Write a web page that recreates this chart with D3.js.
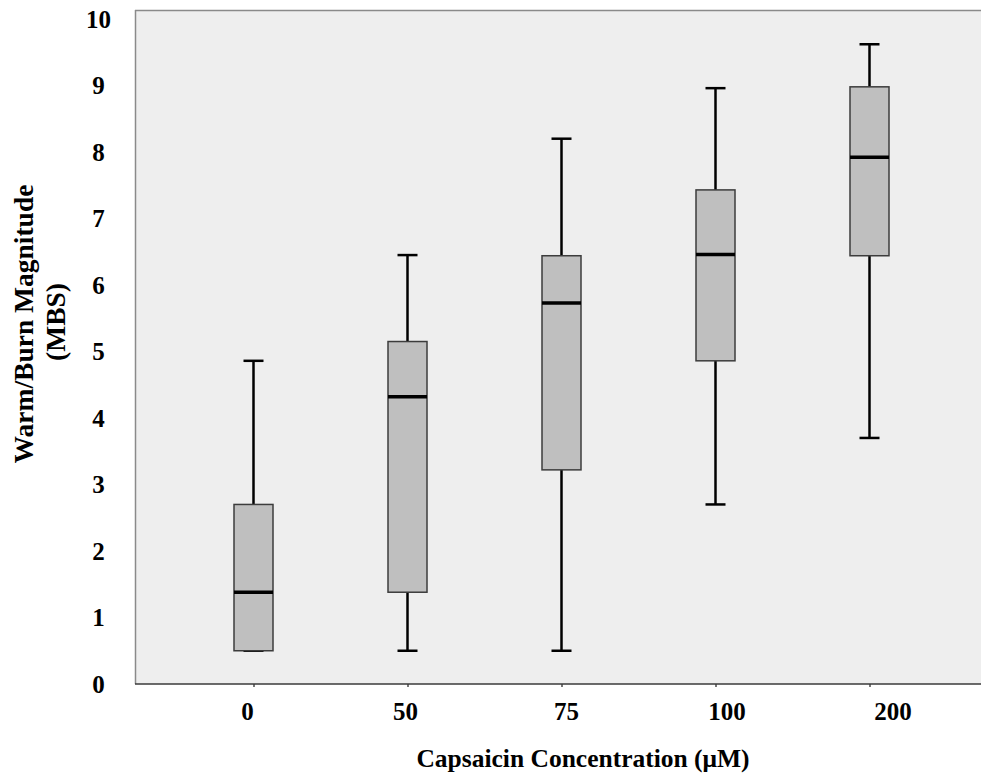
<!DOCTYPE html>
<html>
<head>
<meta charset="utf-8">
<script src="https://cdn.jsdelivr.net/npm/d3@7"></script>
<style>
  body { margin: 0; background: #fff; }
  text { font-family: "Liberation Serif", "Times New Roman", serif; font-weight: bold; fill: #000; }
</style>
</head>
<body>
<div id="chart"></div>
<script>
// capsaicin concentrations (uM) and box stats
const categories = ["0", "50", "75", "100", "200"];
const mins    = [0.5, 0.5, 0.5, 2.7, 3.7];
const q1s     = [0.5, 1.38, 3.22, 4.86, 6.44];
const medians = [1.38, 4.32, 5.73, 6.46, 7.92];
const q3s     = [2.7, 5.15, 6.44, 7.43, 8.98];
const maxs    = [4.86, 6.45, 8.2, 8.96, 9.62];
const yTicks  = [0, 1, 2, 3, 4, 5, 6, 7, 8, 9, 10];

const WIDTH = 981, HEIGHT = 777;
const plot = { left: 135, top: 10, right: 981, bottom: 684 };

// the category labels in the original sit a bit off their ticks
const labelNudge = [-6.5, -2.5, 4.5, 11, 23];

const boxes = categories.map((c, i) => ({
  cat: c, min: mins[i], q1: q1s[i], med: medians[i], q3: q3s[i], max: maxs[i]
}));

const svg = d3.select("#chart").append("svg")
  .attr("width", WIDTH).attr("height", HEIGHT);

const x = d3.scalePoint()
  .domain(categories)
  .range([253.5, 869.5]);

const y = d3.scaleLinear()
  .domain([0, 10])
  .range([plot.bottom, 19]);

// plot background
svg.append("rect")
  .attr("x", plot.left).attr("y", plot.top)
  .attr("width", plot.right - plot.left).attr("height", plot.bottom - plot.top)
  .attr("fill", "#eeeeee");

svg.append("line")
  .attr("x1", plot.left).attr("x2", plot.right)
  .attr("y1", plot.top + 0.5).attr("y2", plot.top + 0.5)
  .attr("stroke", "#8a8a8a").attr("stroke-width", 1.5);
svg.append("line")
  .attr("x1", plot.left + 0.5).attr("x2", plot.left + 0.5)
  .attr("y1", plot.top).attr("y2", plot.bottom)
  .attr("stroke", "#8a8a8a").attr("stroke-width", 1.5);

// y axis labels (no tick marks)
const yAxis = d3.axisLeft(y).tickValues(yTicks).tickSize(0).tickPadding(0);
const gy = svg.append("g").attr("transform", "translate(111,0)").call(yAxis);
gy.select(".domain").remove();
gy.selectAll("text")
  .attr("text-anchor", "middle").attr("x", -12.5)
  .attr("font-size", 25).attr("font-family", null).attr("font-weight", null);

// x axis
const xAxis = d3.axisBottom(x).tickSize(3).tickPadding(15);
const gx = svg.append("g").attr("transform", `translate(0,${plot.bottom})`).call(xAxis);
gx.select(".domain").remove();
gx.selectAll(".tick line").attr("stroke", "#777").attr("stroke-width", 2);
gx.selectAll("text")
  .attr("dx", (d, i) => labelNudge[i])
  .attr("font-size", 25).attr("font-family", null).attr("font-weight", null);
svg.append("line")
  .attr("x1", plot.left).attr("x2", plot.right)
  .attr("y1", plot.bottom).attr("y2", plot.bottom)
  .attr("stroke", "#3a3a3a").attr("stroke-width", 1.5);

// boxes
const BOX_W = 39, CAP_W = 20;
const g = svg.selectAll("g.box").data(boxes).enter().append("g")
  .attr("class", "box")
  .attr("transform", d => `translate(${x(d.cat)},0)`);

g.append("line")
  .attr("y1", d => y(d.q3)).attr("y2", d => y(d.max))
  .attr("stroke", "#000").attr("stroke-width", 2.5);
g.append("line")
  .attr("y1", d => y(d.q1)).attr("y2", d => y(d.min))
  .attr("stroke", "#000").attr("stroke-width", 2.5);
g.append("line")
  .attr("x1", -CAP_W / 2).attr("x2", CAP_W / 2)
  .attr("y1", d => y(d.max)).attr("y2", d => y(d.max))
  .attr("stroke", "#000").attr("stroke-width", 2.5);
g.append("line")
  .attr("x1", -CAP_W / 2).attr("x2", CAP_W / 2)
  .attr("y1", d => y(d.min)).attr("y2", d => y(d.min))
  .attr("stroke", "#000").attr("stroke-width", 2.5);
g.append("rect")
  .attr("x", -BOX_W / 2).attr("width", BOX_W)
  .attr("y", d => y(d.q3)).attr("height", d => y(d.q1) - y(d.q3))
  .attr("fill", "#bfbfbf").attr("stroke", "#3c3c3c").attr("stroke-width", 1.5);
g.append("line")
  .attr("x1", -BOX_W / 2).attr("x2", BOX_W / 2)
  .attr("y1", d => y(d.med)).attr("y2", d => y(d.med))
  .attr("stroke", "#000").attr("stroke-width", 3.5);

// axis titles
svg.append("text")
  .attr("x", 583).attr("y", 767)
  .attr("text-anchor", "middle").attr("font-size", 25.5)
  .text("Capsaicin Concentration (μM)");

const yt = svg.append("text")
  .attr("transform", "translate(33,324) rotate(-90)")
  .attr("text-anchor", "middle").attr("font-size", 27.5);
yt.append("tspan").attr("x", 0).attr("dy", 0).text("Warm/Burn Magnitude");
yt.append("tspan").attr("x", 2).attr("dy", 32).text("(MBS)");
</script>
</body>
</html>
